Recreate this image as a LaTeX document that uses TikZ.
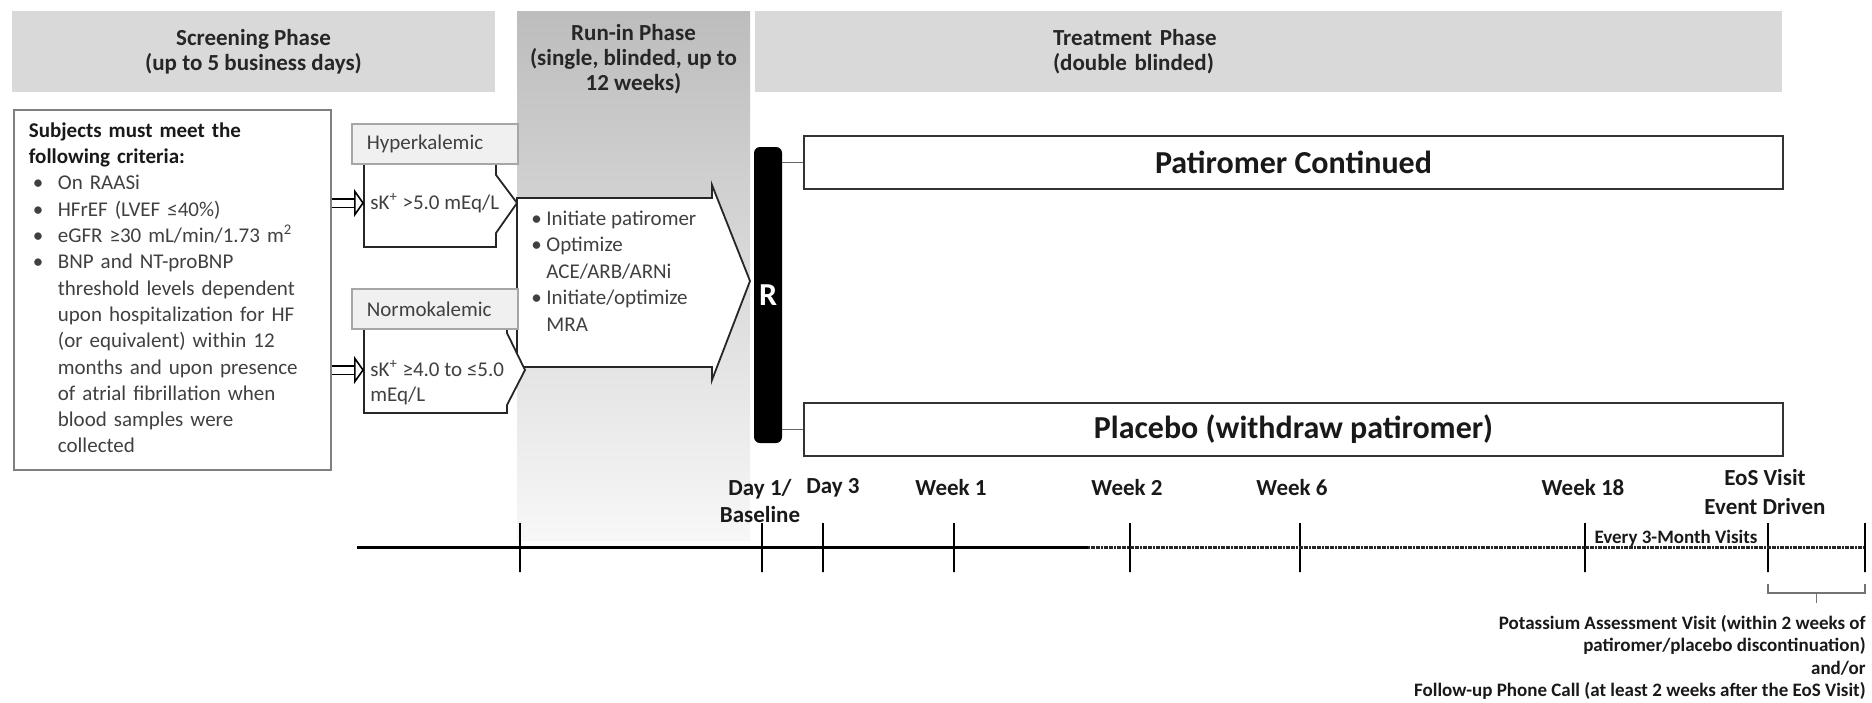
\documentclass[tikz,border=0pt]{standalone}
\usepackage{fontspec}
\setmainfont{Carlito}
\usepackage{tikz}
\usetikzlibrary{arrows.meta}

\definecolor{hdrgray}{RGB}{217,217,217}
\definecolor{labgray}{RGB}{240,240,240}
\definecolor{txtgray}{RGB}{64,64,64}

\begin{document}
\begin{tikzpicture}[x=50pt,y=-50pt,
	phase/.style={fill=hdrgray, inner sep=0pt, minimum height=40.5pt, text=black!85, align=center,
		font=\fontsize{11.5}{12.5}\selectfont\bfseries},
	kalbox/.style={draw=black!35, fill=labgray, line width=0.8pt, anchor=north west, minimum width=83pt,
		minimum height=20pt, inner xsep=7.5pt, text width=68pt, align=left, text=txtgray,
		font=\fontsize{10.5}{12.5}\selectfont},
	block/.style={draw=black!85, fill=white, line width=0.9pt},
	armbox/.style={draw=black!80, line width=1.2pt, fill=white, minimum width=489.5pt, minimum height=26.5pt,
		text=black!90, font=\fontsize{16}{18}\selectfont\bfseries},
	tickmark/.style={draw, line width=1.2pt, minimum width=0pt, minimum height=24.5pt, inner sep=0pt},
	visit/.style={text=black!90, align=center, font=\fontsize{11.5}{13.5}\selectfont\bfseries},
	hollow/.style={double=white, double distance=3.5pt, line width=0.8pt,
		-{Triangle[open, fill=white, length=5pt, width=14pt]}},
	]
	\useasboundingbox (0,0) rectangle (18.72,7.02);

	% phase headers
	\node (screen) at (2.535,0.515) [phase, minimum width=241.5pt] {Screening Phase\\(up to 5 business days)};
	\shade[top color=black!26, middle color=black!19, bottom color=black!3] (5.17,0.11) rectangle (7.50,5.40);
	\node (runin) at (6.335,0.59) [phase, fill=none] {Run-in Phase\\(single, blinded, up to\\12 weeks)};
	\node (treat) at (12.685,0.515) [phase, minimum width=513.5pt, inner xsep=149pt, text width=215.5pt, align=left]
		{Treatment Phase\\(double blinded)};

	% screening criteria
	\node (crit) at (0.13,1.09) [anchor=north west, draw=black!50, line width=0.9pt, minimum width=158.5pt,
		minimum height=180pt, inner xsep=7.5pt, text width=143.5pt, text=txtgray,
		font=\fontsize{10.5}{13.15}\selectfont]
		{\begin{tabular}{@{\hspace{2pt}}p{12.5pt}@{}l@{}}
			\multicolumn{2}{@{}l@{}}{\textcolor{black!90}{\bfseries Subjects must meet the}}\\
			\multicolumn{2}{@{}l@{}}{\textcolor{black!90}{\bfseries following criteria:}}\\
			\textbullet & On RAASi\\
			\textbullet & HFrEF (LVEF ≤40\%)\\
			\textbullet & eGFR ≥30 mL/min/1.73 m\textsuperscript{2}\\
			\textbullet & BNP and NT-proBNP\\
			 & threshold levels dependent\\
			 & upon hospitalization for HF\\
			 & (or equivalent) within 12\\
			 & months and upon presence\\
			 & of atrial fibrillation when\\
			 & blood samples were\\
			 & collected
		\end{tabular}};

	% run-in arrow
	\draw[block] (5.17,1.98) -- (7.12,1.98) -- (7.12,1.85) -- (7.50,2.81) -- (7.12,3.80) -- (7.12,3.67) -- (5.17,3.67) -- cycle;
	\node (tasks) at (5.25,2.73) [anchor=west, inner xsep=3pt, text=txtgray, font=\fontsize{10.5}{13.25}\selectfont]
		{\begin{tabular}{@{}p{7.5pt}@{}l@{}}
			\textbullet & Initiate patiromer\\
			\textbullet & Optimize\\
			 & ACE/ARB/ARNi\\
			\textbullet & Initiate/optimize\\
			 & MRA
		\end{tabular}};

	% potassium groups
	\draw[block] (3.64,1.63) -- (4.96,1.63) -- (4.96,1.75) -- (5.17,2.03) -- (4.96,2.33) -- (4.96,2.47) -- (3.64,2.47) -- cycle;
	\draw[block] (3.64,3.28) -- (5.07,3.28) -- (5.07,3.33) -- (5.25,3.70) -- (5.07,4.05) -- (5.07,4.13) -- (3.64,4.13) -- cycle;
	\node (hyplab) at (3.51,1.23) [kalbox] {Hyperkalemic};
	\node (nrmlab) at (3.51,2.88) [kalbox] {Normokalemic};
	\node (hyk) at (3.64,2.03) [anchor=west, inner xsep=3pt, text=txtgray, font=\fontsize{10.5}{12.5}\selectfont]
		{sK\textsuperscript{+} >5.0 mEq/L};
	\node (nmk) at (3.64,3.825) [anchor=west, inner xsep=3pt, align=left, text=txtgray, font=\fontsize{10.5}{12.5}\selectfont]
		{sK\textsuperscript{+} ≥4.0 to ≤5.0\\mEq/L};
	\coordinate (nmkin) at (3.64,3.70);

	\draw[hollow] (crit.east |- hyk.west) -- (hyk.west);
	\draw[hollow] (crit.east |- nmkin) -- (nmkin);

	% randomisation
	\node (rbar) at (7.68,2.95) [fill=black, rounded corners=3pt, minimum width=14pt, minimum height=148pt,
		inner sep=0pt, text=white, font=\fontsize{16}{16}\selectfont\bfseries] {R};
	\node (cont) at (12.935,1.625) [armbox] {Patiromer Continued};
	\node (plac) at (12.935,4.295) [armbox] {Placebo (withdraw patiromer)};
	\draw[black!60, line width=0.6pt]
		(rbar.east |- cont.west) edge (cont.west)
		(rbar.east |- plac.west) edge (plac.west)
		;

	% timeline
	\coordinate (tstart) at (3.57,5.475);
	\coordinate (tdots) at (10.88,5.475);
	\node (trun) at (5.20,5.475) [tickmark] {};
	\node (tday1) at (7.62,5.475) [tickmark] {};
	\node (tday3) at (8.23,5.475) [tickmark] {};
	\node (twk1) at (9.54,5.475) [tickmark] {};
	\node (twk2) at (11.30,5.475) [tickmark] {};
	\node (twk6) at (13.00,5.475) [tickmark] {};
	\node (twk18) at (15.85,5.475) [tickmark] {};
	\node (teos) at (17.68,5.475) [tickmark] {};
	\node (tend) at (18.65,5.475) [tickmark] {};
	\draw[line width=1.3pt] (tstart) -- (tdots);
	\draw[black!85, line width=1.3pt, dash pattern=on 1pt off 0.3pt] (tdots) -- (tend);

	\node (lday1) at (7.60,5.015) [visit] {Day 1/\\Baseline};
	\node (lday3) at (8.33,4.88) [visit] {Day 3};
	\node (lwk1) at (9.51,4.88) [visit] {Week 1};
	\node (lwk2) at (11.27,4.88) [visit] {Week 2};
	\node (lwk6) at (12.92,4.88) [visit] {Week 6};
	\node (lwk18) at (15.83,4.88) [visit] {Week 18};
	\node (leos) at (17.65,4.925) [visit, font=\fontsize{11.5}{14.5}\selectfont\bfseries] {EoS Visit\\Event Driven};
	\node (lq3m) at (16.76,5.38) [text=black!90, font=\fontsize{9.5}{10}\selectfont\bfseries] {Every 3-Month Visits};

	% follow-up bracket
	\coordinate (bmid) at (18.165,5.93);
	\draw[black!55, line width=0.6pt] ([yshift=-5.5pt]teos.south) |- (bmid) -| ([yshift=-5.5pt]tend.south);
	\draw[black!55, line width=0.6pt] (bmid) -- ++(0,0.10);
	\node (kvisit) at (18.66,6.575) [anchor=east, align=right, inner sep=0pt, text=black!90,
		font=\fontsize{9.5}{11.3}\selectfont\bfseries]
		{Potassium Assessment Visit (within 2 weeks of\\patiromer/placebo discontinuation)\\and/or\\Follow-up Phone Call (at least 2 weeks after the EoS Visit)};
\end{tikzpicture}
\end{document}
